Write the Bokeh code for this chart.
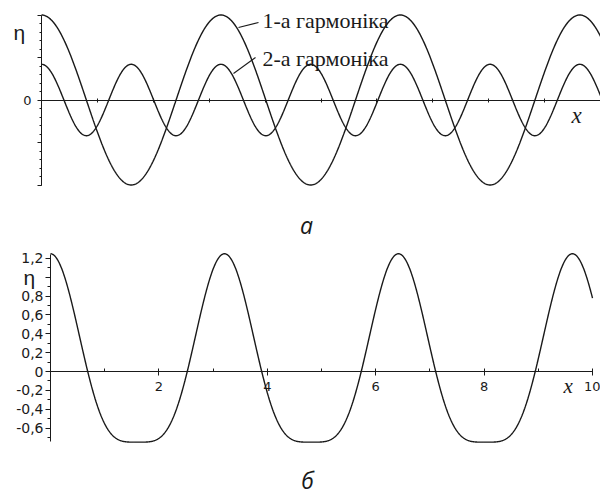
import numpy as np
from bokeh.plotting import figure
from bokeh.models import FixedTicker, Label, Range1d, LinearAxis
from bokeh.layouts import column
from bokeh.embed import file_html
from bokeh.resources import INLINE

# ---------------- data ----------------
wavelength = 3.21                      # period of the 1st harmonic along x
harmonic_orders = [1, 2]
top_amplitudes = [1.0, 0.42]           # panel a: each harmonic drawn separately
sum_amplitudes = [1.0, 0.25]           # panel б: sum of the two harmonics
harmonic_labels = ["1-а гармоніка", "2-а гармоніка"]
x_start, x_end = 0.0, 10.0

top_x_ticks = [1, 2, 3, 4, 5, 6, 7, 8, 9, 10]
top_y_ticks = [-1.0, -0.5, 0.0, 0.5, 1.0]
top_y_tick_labels = ["", "", "0", "", ""]

bottom_x_ticks = [2, 4, 6, 8, 10]
bottom_x_minor = [1, 3, 5, 7, 9]
bottom_x_tick_labels = ["2", "4", "6", "8", "10"]
bottom_y_ticks = [-0.6, -0.4, -0.2, 0.0, 0.2, 0.4, 0.6, 0.8, 1.0, 1.2]
bottom_y_tick_labels = ["-0,6", "-0,4", "-0,2", "0", "0,2", "0,4", "0,6", "0,8", "", "1,2"]
captions = ["а", "б"]

# ---------------- build curves ----------------
xs = np.linspace(x_start, x_end, 1001)
k = 2 * np.pi / wavelength
top_curves = [a * np.cos(n * k * xs) for n, a in zip(harmonic_orders, top_amplitudes)]
sum_curve = sum(a * np.cos(n * k * xs) for n, a in zip(harmonic_orders, sum_amplitudes))

INK = "#1a1a1a"
W = 600

# ---------------- panel a ----------------
p1 = figure(width=W, height=248, title=None,
            x_range=Range1d(-41 / 55.9, (W - 41) / 55.9),
            y_range=Range1d((99.5 - 248) / 85.0, 99.5 / 85.0),
            x_axis_type=None, y_axis_type=None,
            toolbar_location=None, output_backend="svg",
            min_border_left=0, min_border_right=0,
            min_border_top=0, min_border_bottom=0)
p1.outline_line_color = None
for c in top_curves:
    p1.line(xs, c, line_color=INK, line_width=1.4)

yax1 = LinearAxis(ticker=FixedTicker(ticks=top_y_ticks,
                                     minor_ticks=list(np.round(np.arange(-1.0, 1.001, 0.1), 2))),
                  fixed_location=0, bounds=(-1.0, 1.0),
                  major_label_overrides={t: l for t, l in zip(top_y_ticks, top_y_tick_labels)},
                  major_tick_out=4, major_tick_in=0, minor_tick_out=2, minor_tick_in=0,
                  major_label_standoff=6,
                  major_label_text_font="DejaVu Sans", major_label_text_font_size="13px",
                  major_label_text_color=INK, axis_line_color=INK,
                  major_tick_line_color=INK, minor_tick_line_color=INK)
p1.add_layout(yax1, "left")

xax1 = LinearAxis(ticker=FixedTicker(ticks=top_x_ticks, minor_ticks=[]),
                  fixed_location=0, bounds=(0, 10),
                  major_label_overrides={t: "" for t in top_x_ticks},
                  major_tick_out=2, major_tick_in=2,
                  axis_line_color=INK, major_tick_line_color=INK)
p1.add_layout(xax1, "below")

# leader lines and harmonic labels
leader_x = [[3.882, 3.524], [3.828, 3.435]]
leader_y = [[0.912, 0.853], [0.50, 0.312]]
label_pos = [(3.953, 0.936), (3.953, 0.489)]
for lx, ly in zip(leader_x, leader_y):
    p1.line(lx, ly, line_color=INK, line_width=1.1)
for (tx, ty), txt in zip(label_pos, harmonic_labels):
    p1.add_layout(Label(x=tx, y=ty, text=txt, text_font="Liberation Serif",
                        text_font_size="22px", text_color=INK, text_baseline="middle"))

p1.add_layout(Label(x=-0.501, y=0.80, text="η", text_font="Liberation Sans",
                    text_font_size="21px", text_color=INK, text_baseline="alphabetic"))
p1.add_layout(Label(x=9.481, y=-0.183, text="x", text_font="Liberation Serif",
                    text_font_style="italic", text_font_size="23px", text_color=INK,
                    text_baseline="alphabetic"))
p1.add_layout(Label(x=4.741, y=-1.467, text=captions[0], text_font="Open Sans",
                    text_font_style="italic", text_font_size="23px", text_color=INK,
                    text_align="center", text_baseline="alphabetic"))

# ---------------- panel б ----------------
H2 = 249
p2 = figure(width=W, height=H2, title=None,
            x_range=Range1d(-50 / 54.2, (W - 50) / 54.2),
            y_range=Range1d((371 - 248 - H2) / 94.2, (371 - 248) / 94.2),
            x_axis_type=None, y_axis_type=None,
            toolbar_location=None, output_backend="svg",
            min_border_left=0, min_border_right=0,
            min_border_top=0, min_border_bottom=0)
p2.outline_line_color = None
p2.line(xs, sum_curve, line_color=INK, line_width=1.4)

yax2 = LinearAxis(ticker=FixedTicker(ticks=bottom_y_ticks,
                                     minor_ticks=list(np.round(np.arange(-0.7, 1.25, 0.2), 2))),
                  fixed_location=0, bounds=(-0.74, 1.24),
                  major_label_overrides={t: l for t, l in zip(bottom_y_ticks, bottom_y_tick_labels)},
                  major_tick_out=5, major_tick_in=0, minor_tick_out=3, minor_tick_in=0,
                  major_label_standoff=2,
                  major_label_text_font="DejaVu Sans", major_label_text_font_size="14px",
                  major_label_text_color=INK, axis_line_color=INK,
                  major_tick_line_color=INK, minor_tick_line_color=INK)
p2.add_layout(yax2, "left")

xax2 = LinearAxis(ticker=FixedTicker(ticks=bottom_x_ticks, minor_ticks=bottom_x_minor),
                  fixed_location=0, bounds=(0, 10),
                  major_label_overrides={t: l for t, l in zip(bottom_x_ticks, bottom_x_tick_labels)},
                  major_tick_out=4, major_tick_in=3, minor_tick_out=0, minor_tick_in=3,
                  major_label_standoff=6,
                  major_label_text_font="DejaVu Sans", major_label_text_font_size="13px",
                  major_label_text_color=INK, axis_line_color=INK,
                  major_tick_line_color=INK, minor_tick_line_color=INK)
p2.add_layout(xax2, "below")

p2.add_layout(Label(x=-0.498, y=0.998, text="η", text_font="Liberation Sans",
                    text_font_size="21px", text_color=INK, text_baseline="alphabetic"))
p2.add_layout(Label(x=9.465, y=-0.149, text="x", text_font="Liberation Serif",
                    text_font_style="italic", text_font_size="21px", text_color=INK,
                    text_baseline="alphabetic"))
p2.add_layout(Label(x=4.742, y=-1.15, text=captions[1], text_font="Open Sans",
                    text_font_style="italic", text_font_size="23px", text_color=INK,
                    text_align="center", text_baseline="alphabetic"))

layout = column(p1, p2, spacing=0)
open("out.html", "w").write(file_html(layout, INLINE))
